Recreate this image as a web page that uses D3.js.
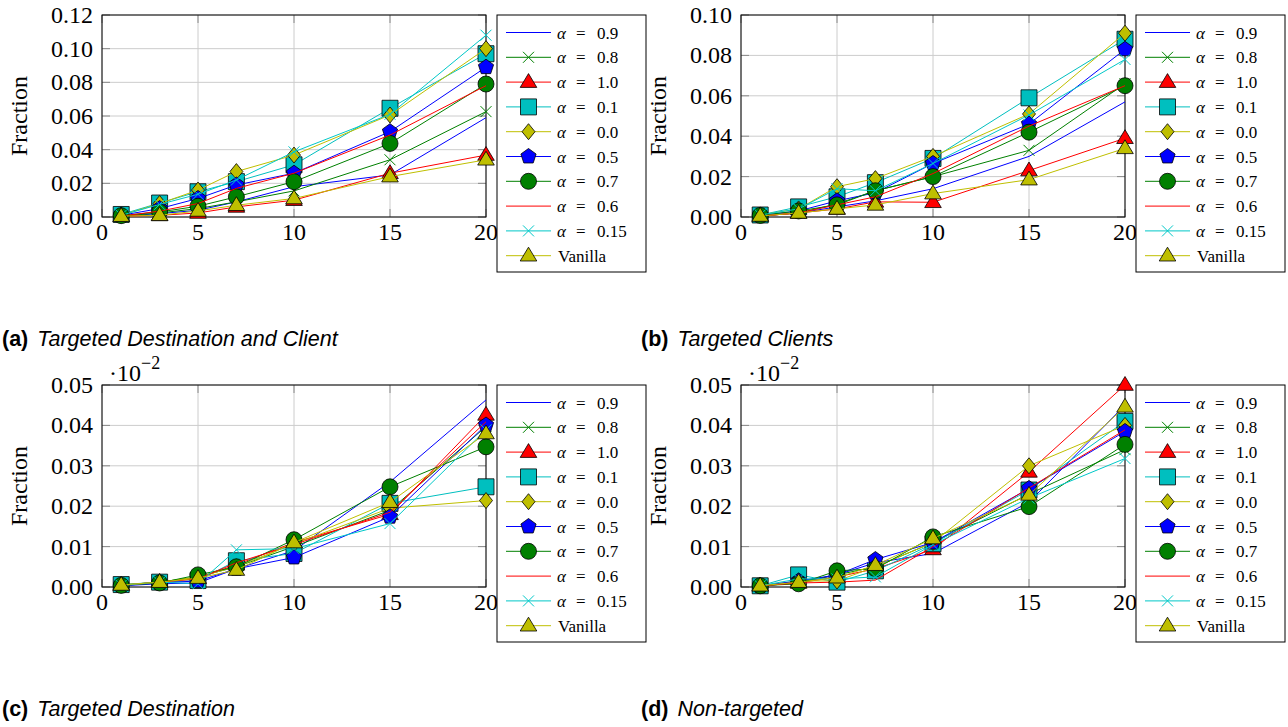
<!DOCTYPE html>
<meta charset="utf-8">
<style>
body { margin: 0; background: #fff; }
svg { display: block; }
.tick-label { font-family: "Liberation Serif", serif; font-size: 24px; fill: #000; }
.legend-text { font-family: "Liberation Serif", serif; font-size: 17px; fill: #000; }
.caption { font-family: "Liberation Sans", sans-serif; font-size: 21.5px; fill: #000; }
</style>
<svg width="1288" height="727"></svg>
<script src="https://cdn.jsdelivr.net/npm/d3@7"></script>
<script>

// x positions shared by all panels
var xValues = [1, 3, 5, 7, 10, 15, 20];
var xTicks = [0, 5, 10, 15, 20];

var seriesLabels = ["0.9", "0.8", "1.0", "0.1", "0.0", "0.5", "0.7", "0.6", "0.15", "Vanilla"];

// rows follow seriesLabels order, columns follow xValues
var destClient = [
  [0.0005, 0.002, 0.004, 0.009, 0.018, 0.025, 0.059],
  [0.0005, 0.0024, 0.005, 0.009, 0.0155, 0.034, 0.0626],
  [0.0005, 0.001, 0.0024, 0.006, 0.010, 0.026, 0.0368],
  [0.0015, 0.0083, 0.015, 0.021, 0.031, 0.0646, 0.097],
  [0.001, 0.008, 0.016, 0.027, 0.0368, 0.0606, 0.100],
  [0.001, 0.005, 0.011, 0.019, 0.026, 0.0507, 0.089],
  [0.0008, 0.003, 0.0064, 0.012, 0.021, 0.0437, 0.079],
  [0.0005, 0.0035, 0.008, 0.017, 0.026, 0.0487, 0.078],
  [0.001, 0.0075, 0.0135, 0.022, 0.0387, 0.061, 0.108],
  [0.0005, 0.001, 0.0036, 0.007, 0.011, 0.024, 0.034]
];

var clients = [
  [0.0005, 0.002, 0.005, 0.008, 0.014, 0.030, 0.057],
  [0.0005, 0.002, 0.0065, 0.013, 0.020, 0.033, 0.066],
  [0.0005, 0.002, 0.004, 0.0075, 0.0073, 0.023, 0.039],
  [0.001, 0.005, 0.010, 0.017, 0.029, 0.059, 0.088],
  [0.001, 0.004, 0.015, 0.019, 0.030, 0.051, 0.091],
  [0.0008, 0.003, 0.008, 0.012, 0.0265, 0.046, 0.083],
  [0.0008, 0.003, 0.006, 0.013, 0.020, 0.042, 0.065],
  [0.0005, 0.002, 0.006, 0.010, 0.0215, 0.045, 0.065],
  [0.001, 0.004, 0.014, 0.013, 0.0265, 0.0505, 0.078],
  [0.0005, 0.002, 0.004, 0.006, 0.0116, 0.0185, 0.034]
];

var destination = [
  [0.0003, 0.0008, 0.001, 0.0045, 0.009, 0.026, 0.0463],
  [0.0005, 0.0012, 0.0025, 0.005, 0.010, 0.019, 0.0397],
  [0.0005, 0.0012, 0.0022, 0.0055, 0.011, 0.018, 0.0426],
  [0.0006, 0.0012, 0.0016, 0.0065, 0.0083, 0.0207, 0.0248],
  [0.0005, 0.0012, 0.0025, 0.005, 0.0107, 0.0195, 0.0214],
  [0.0004, 0.001, 0.0015, 0.0045, 0.0073, 0.0174, 0.0401],
  [0.0004, 0.001, 0.003, 0.005, 0.0117, 0.0248, 0.0347],
  [0.0004, 0.0012, 0.002, 0.006, 0.0105, 0.0185, 0.0409],
  [0.0004, 0.0012, 0.0008, 0.0092, 0.0095, 0.0157, 0.0389],
  [0.0005, 0.0012, 0.0022, 0.0042, 0.011, 0.021, 0.038]
];

var nonTargeted = [
  [0.0003, 0.001, 0.003, 0.006, 0.0083, 0.021, 0.045],
  [0.0003, 0.0012, 0.003, 0.005, 0.011, 0.023, 0.034],
  [0.0003, 0.001, 0.0025, 0.0045, 0.0093, 0.0285, 0.050],
  [0.0003, 0.003, 0.0012, 0.004, 0.0107, 0.024, 0.041],
  [0.0003, 0.0015, 0.0015, 0.005, 0.011, 0.030, 0.040],
  [0.0003, 0.0015, 0.003, 0.0068, 0.011, 0.0244, 0.0385],
  [0.0003, 0.0008, 0.004, 0.0045, 0.0124, 0.0199, 0.0353],
  [0.0003, 0.001, 0.0012, 0.0017, 0.010, 0.0245, 0.0389],
  [0.0003, 0.002, 0.002, 0.0025, 0.0105, 0.022, 0.0318],
  [0.0003, 0.0012, 0.0023, 0.0054, 0.012, 0.0228, 0.0446]
];

var yTicksLarge = [0, 0.02, 0.04, 0.06, 0.08, 0.10, 0.12];
var yTicksMid = [0, 0.02, 0.04, 0.06, 0.08, 0.10];
var yTicksSmall = [0, 0.01, 0.02, 0.03, 0.04, 0.05];

var captionTags = ["(a)", "(b)", "(c)", "(d)"];
var captionTexts = ["Targeted Destination and Client", "Targeted Clients", "Targeted Destination", "Non-targeted"];

// look of each series (same order as seriesLabels)
var styles = [
  {color: "#0000ff", mark: null},
  {color: "#008000", mark: "x"},
  {color: "#ff0000", mark: "triangle"},
  {color: "#00bfbf", mark: "square"},
  {color: "#bfbf00", mark: "diamond"},
  {color: "#0000ff", mark: "pentagon"},
  {color: "#008000", mark: "circle"},
  {color: "#ff0000", mark: null},
  {color: "#00c8c8", mark: "x"},
  {color: "#bfbf00", mark: "triangle"}
];

var panels = [
  {data: destClient, ticks: yTicksLarge, max: 0.12, left: 102, top: 15, exp: false, capX: 2, capY: 346},
  {data: clients, ticks: yTicksMid, max: 0.10, left: 741, top: 15, exp: false, capX: 641, capY: 346},
  {data: destination, ticks: yTicksSmall, max: 0.05, left: 102, top: 385, exp: true, capX: 2, capY: 716},
  {data: nonTargeted, ticks: yTicksSmall, max: 0.05, left: 741, top: 385, exp: true, capX: 641, capY: 716}
];

var plotW = 384, plotH = 202;
var svg = d3.select("svg");

function markPath(type) {
  var p = d3.path();
  if (type == "square") {
    p.rect(-8, -8, 16, 16);
  } else if (type == "circle") {
    p.arc(0, 0, 8, 0, 2 * Math.PI);
  } else if (type == "triangle") {
    p.moveTo(0, -8.5); p.lineTo(8.3, 5.3); p.lineTo(-8.3, 5.3); p.closePath();
  } else if (type == "diamond") {
    p.moveTo(0, -8); p.lineTo(6.5, 0); p.lineTo(0, 8); p.lineTo(-6.5, 0); p.closePath();
  } else if (type == "pentagon") {
    for (var k = 0; k < 5; k++) {
      var a = -Math.PI / 2 + k * 2 * Math.PI / 5;
      if (k == 0) p.moveTo(8 * Math.cos(a), 8 * Math.sin(a));
      else p.lineTo(8 * Math.cos(a), 8 * Math.sin(a));
    }
    p.closePath();
  } else if (type == "x") {
    p.moveTo(-5.5, -5.5); p.lineTo(5.5, 5.5);
    p.moveTo(-5.5, 5.5); p.lineTo(5.5, -5.5);
  }
  return p.toString();
}

function drawMark(g, type, color, x, y) {
  if (!type) return;
  var m = g.append("path")
      .attr("d", markPath(type))
      .attr("transform", "translate(" + x + "," + y + ")");
  if (type == "x") {
    m.attr("fill", "none").attr("stroke", color).attr("stroke-width", 1);
  } else {
    m.attr("fill", color).attr("stroke", "#000").attr("stroke-width", 0.8);
  }
}

panels.forEach(function(pn, pi) {
  var x = d3.scaleLinear().domain([0, 20]).range([pn.left, pn.left + plotW]);
  var y = d3.scaleLinear().domain([0, pn.max]).range([pn.top + plotH, pn.top]);
  var g = svg.append("g");

  // grid
  g.selectAll("line.gx").data(xTicks).enter().append("line")
      .attr("x1", function(d) { return x(d); }).attr("x2", function(d) { return x(d); })
      .attr("y1", pn.top).attr("y2", pn.top + plotH)
      .attr("stroke", "#cccccc").attr("stroke-width", 1);
  g.selectAll("line.gy").data(pn.ticks).enter().append("line")
      .attr("y1", function(d) { return y(d); }).attr("y2", function(d) { return y(d); })
      .attr("x1", pn.left).attr("x2", pn.left + plotW)
      .attr("stroke", "#cccccc").attr("stroke-width", 1);

  // tick marks, inside on both sides
  pn.ticks.forEach(function(t) {
    g.append("line").attr("x1", pn.left).attr("x2", pn.left + 8).attr("y1", y(t)).attr("y2", y(t)).attr("stroke", "#8a8a8a");
    g.append("line").attr("x1", pn.left + plotW - 8).attr("x2", pn.left + plotW).attr("y1", y(t)).attr("y2", y(t)).attr("stroke", "#8a8a8a");
  });
  xTicks.forEach(function(t) {
    g.append("line").attr("x1", x(t)).attr("x2", x(t)).attr("y1", pn.top + plotH).attr("y2", pn.top + plotH - 8).attr("stroke", "#8a8a8a");
    g.append("line").attr("x1", x(t)).attr("x2", x(t)).attr("y1", pn.top).attr("y2", pn.top + 8).attr("stroke", "#8a8a8a");
  });

  g.append("rect")
      .attr("x", pn.left).attr("y", pn.top)
      .attr("width", plotW).attr("height", plotH)
      .attr("fill", "none").attr("stroke", "#000").attr("stroke-width", 1);

  // tick labels
  g.selectAll("text.xt").data(xTicks).enter().append("text")
      .attr("class", "tick-label")
      .attr("x", function(d) { return x(d); })
      .attr("y", pn.top + plotH + 23)
      .attr("text-anchor", "middle")
      .text(function(d) { return d; });
  g.selectAll("text.yt").data(pn.ticks).enter().append("text")
      .attr("class", "tick-label")
      .attr("x", pn.left - 9)
      .attr("y", function(d) { return y(d) + 8; })
      .attr("text-anchor", "end")
      .text(function(d) { return d3.format(".2f")(d); });

  g.append("text")
      .attr("class", "tick-label")
      .attr("font-size", 26)
      .attr("transform", "translate(" + (pn.left - 75) + "," + (pn.top + plotH / 2) + ") rotate(-90)")
      .attr("text-anchor", "middle")
      .text("Fraction");

  if (pn.exp) {
    var e = g.append("text").attr("class", "tick-label")
        .attr("x", pn.left + 7).attr("y", pn.top - 4);
    e.append("tspan").text("\u00b710");
    e.append("tspan").attr("dy", -12).attr("font-size", 18).text("\u22122");
  }

  // series: line, then its marks
  pn.data.forEach(function(row, si) {
    var st = styles[si];
    var pts = row.map(function(v, k) { return [xValues[k], v]; });
    g.append("path")
        .datum(pts)
        .attr("fill", "none")
        .attr("stroke", st.color)
        .attr("stroke-width", 1)
        .attr("d", d3.line().x(function(d) { return x(d[0]); }).y(function(d) { return y(d[1]); }));
    pts.forEach(function(d) { drawMark(g, st.mark, st.color, x(d[0]), y(d[1])); });
  });

  // legend
  var lx = pn.left + plotW + 11, ly = pn.top;
  var lg = svg.append("g");
  lg.append("rect")
      .attr("x", lx).attr("y", ly).attr("width", 149).attr("height", 257)
      .attr("fill", "#fff").attr("stroke", "#000").attr("stroke-width", 1);
  seriesLabels.forEach(function(lab, si) {
    var st = styles[si];
    var ry = ly + 17.5 + si * 24.8;
    lg.append("line")
        .attr("x1", lx + 9).attr("x2", lx + 54)
        .attr("y1", ry).attr("y2", ry)
        .attr("stroke", st.color).attr("stroke-width", 1);
    drawMark(lg, st.mark, st.color, lx + 31.5, ry);
    var t = lg.append("text").attr("class", "legend-text").attr("y", ry + 6);
    if (lab == "Vanilla") {
      t.attr("x", lx + 61).text(lab);
    } else {
      t.append("tspan").attr("x", lx + 60).attr("font-style", "italic").text("\u03b1");
      t.append("tspan").attr("x", lx + 79).text("=");
      t.append("tspan").attr("x", lx + 100).text(lab);
    }
  });

  // caption
  var c = svg.append("text").attr("class", "caption")
      .attr("x", pn.capX).attr("y", pn.capY);
  c.append("tspan").attr("font-weight", "bold").text(captionTags[pi]);
  c.append("tspan").attr("dx", 9).attr("font-style", "italic").text(captionTexts[pi]);
});

</script>
